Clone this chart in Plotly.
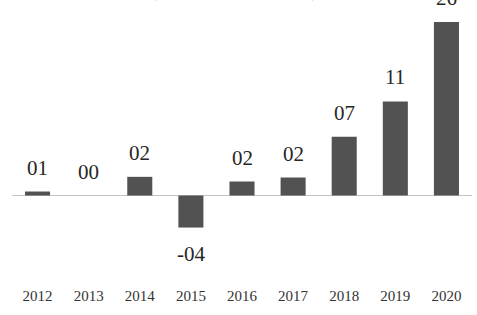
import plotly.graph_objects as go

years = ["2012", "2013", "2014", "2015", "2016", "2017", "2018", "2019", "2020"]
values = [0.6, 0.0, 2.8, -4.8, 2.1, 2.7, 8.8, 14.1, 26.0]
labels = ["01", "00", "02", "-04", "02", "02", "07", "11", "26"]
title_text = "Growth (% year-on-year)"

SERIF = "Liberation Serif, Times New Roman, serif"

fig = go.Figure()
fig.add_trace(go.Bar(
    x=years, y=values,
    marker=dict(color="#525252", line=dict(width=0)),
    hoverinfo="skip",
))

for i, (v, lab) in enumerate(zip(values, labels)):
    if v >= 0:
        fig.add_annotation(x=i, y=v, text=lab, showarrow=False,
                           yanchor="bottom", yshift=10,
                           font=dict(family=SERIF, size=21, color="#262626"))
    else:
        fig.add_annotation(x=i, y=v, text=lab, showarrow=False,
                           yanchor="top", yshift=-12,
                           font=dict(family=SERIF, size=21, color="#262626"))

fig.add_annotation(xref="paper", yref="paper", x=0.674, y=1, text=title_text,
                   showarrow=False, xanchor="right", yanchor="bottom", yshift=-3,
                   font=dict(family=SERIF, size=25, color="#262626"))

fig.update_layout(
    width=477, height=315,
    margin=dict(l=12, r=5, t=0, b=30),
    paper_bgcolor="white", plot_bgcolor="white",
    bargap=0.51,
    showlegend=False,
    xaxis=dict(type="category", showgrid=False, showline=False, ticks="",
               zeroline=False,
               tickfont=dict(family=SERIF, size=15, color="#333333"),
               range=[-0.5, 8.5]),
    yaxis=dict(range=[-13.41, 29.3], showgrid=False, showticklabels=False,
               ticks="", showline=False, zeroline=True,
               zerolinecolor="#c4c4c4", zerolinewidth=1),
)

fig.write_html("out.html", config={"displayModeBar": False},
               post_script="document.body.style.margin='0';")
